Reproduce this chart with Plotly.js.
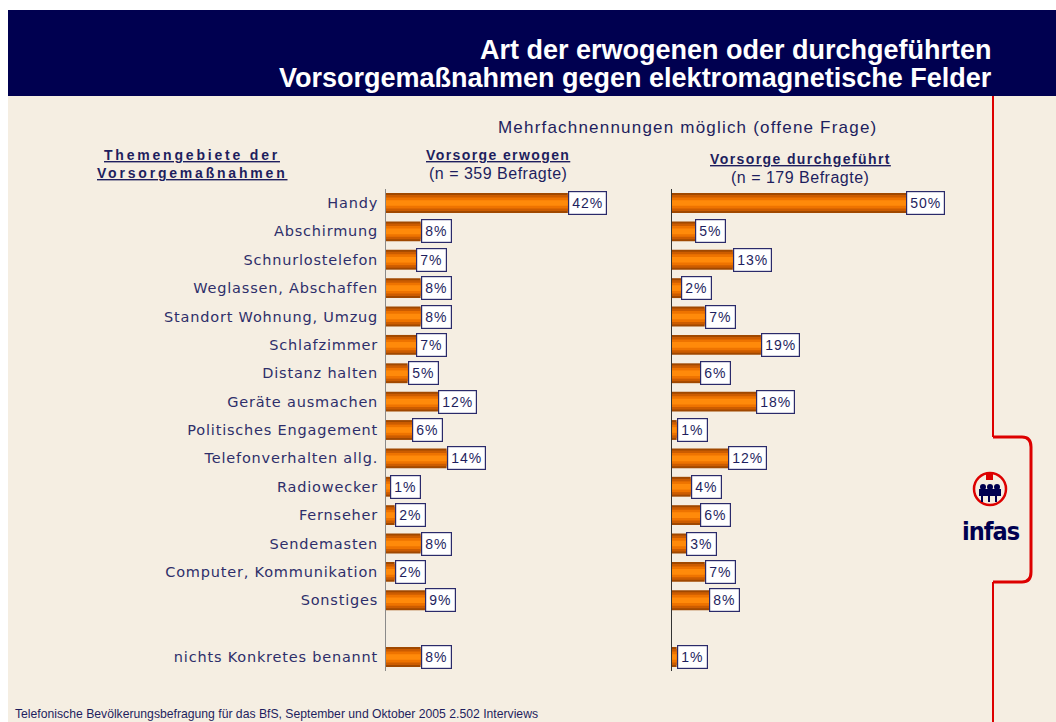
<!DOCTYPE html>
<html>
<head>
<meta charset="utf-8">
<script src="https://cdn.plot.ly/plotly-3.0.1.min.js"></script>
<style>html,body{margin:0;padding:0;background:#fff;}#chart{width:1056px;height:722px;}</style>
</head>
<body>
<div id="chart"></div>
<script>
// ---- data ----
const categories = ['Handy','Abschirmung','Schnurlostelefon','Weglassen, Abschaffen','Standort Wohnung, Umzug','Schlafzimmer','Distanz halten','Geräte ausmachen','Politisches Engagement','Telefonverhalten allg.','Radiowecker','Fernseher','Sendemasten','Computer, Kommunikation','Sonstiges','nichts Konkretes benannt'];
const erwogen = [42,8,7,8,8,7,5,12,6,14,1,2,8,2,9,8];
const durchgefuehrt = [50,5,13,2,7,19,6,18,1,12,4,6,3,7,8,1];
const titleLines = ['Art der erwogenen oder durchgeführten','Vorsorgemaßnahmen gegen elektromagnetische Felder'];
const subtitle = 'Mehrfachnennungen möglich (offene Frage)';
const leftHeader = ['Themengebiete der','Vorsorgemaßnahmen'];
const seriesHeaders = ['Vorsorge erwogen','Vorsorge durchgeführt'];
const seriesN = ['(n = 359 Befragte)','(n = 179 Befragte)'];
const footer = 'Telefonische Bevölkerungsbefragung für das BfS, September und Oktober 2005 2.502 Interviews';
const logoText = 'infas';

// ---- layout helpers ----
const W = 1056, H = 722;
const px = x => x / W;
const py = y => 1 - y / H;
const NAVY = '#000050';
const TXT = '#1e1e5e';
const BEIGE = '#F5EEE2';
const RED = '#DD0000';
const sp = (t, ls) => '<span style="letter-spacing:' + ls + 'px">' + t + '</span>';

// category axis with a blank slot before the last entry
const SPACER = '\u2009';
const catArray = categories.slice(0, categories.length - 1).concat([SPACER], categories.slice(-1));
const catText = catArray.map(c => c === SPACER ? '' : sp(c, 0.8));

const layers = [
  {w: 0.70, c: '#A04800'},
  {w: 0.56, c: '#CC5C00'},
  {w: 0.38, c: '#EE7300'},
  {w: 0.20, c: '#FF8A0A'}
];

const traces = [];
[[erwogen,'x','y'],[durchgefuehrt,'x2','y2']].forEach(([vals, xa, ya]) => {
  layers.forEach(l => {
    traces.push({
      type: 'bar', orientation: 'h',
      x: vals, y: categories,
      xaxis: xa, yaxis: ya,
      width: l.w,
      marker: {color: l.c, line: {width: 0}},
      hoverinfo: 'skip', showlegend: false
    });
  });
});

const annotations = [];
// value boxes
[[erwogen,'x','y'],[durchgefuehrt,'x2','y2']].forEach(([vals, xa, ya]) => {
  vals.forEach((v, i) => {
    annotations.push({
      xref: xa, yref: ya, x: v, y: categories[i],
      xanchor: 'left', yanchor: 'middle', showarrow: false,
      text: sp(v + '%', 1),
      font: {family: 'Arial, Liberation Sans, sans-serif', size: 14, color: TXT},
      bgcolor: '#ffffff', bordercolor: '#2a2a6a', borderwidth: 1.2, borderpad: 3
    });
  });
});
// title
titleLines.forEach((t, i) => {
  annotations.push({xref:'paper', yref:'paper', x: px(994), y: py(50 + i*28), xanchor:'right', yanchor:'middle', showarrow:false,
    text: t, font:{family:'Arial, Liberation Sans, sans-serif', size:27, color:'#ffffff', weight:'bold'}});
});
// subtitle
annotations.push({xref:'paper', yref:'paper', x: px(687), y: py(128), xanchor:'center', yanchor:'middle', showarrow:false,
  text: sp(subtitle, 1.2), font:{family:'Arial, Liberation Sans, sans-serif', size:17, color:TXT}});
// left header
leftHeader.forEach((t, i) => {
  annotations.push({xref:'paper', yref:'paper', x: px(192), y: py(155 + i*18), xanchor:'center', yanchor:'middle', showarrow:false,
    text: sp(t, 2.8),
    font:{family:'Arial, Liberation Sans, sans-serif', size:14, color:TXT, weight:'bold', lineposition:'under'}});
});
// series headers
const hdrX = [498, 800], hdrY = [155, 159];
seriesHeaders.forEach((t, i) => {
  annotations.push({xref:'paper', yref:'paper', x: px(hdrX[i]), y: py(hdrY[i]), xanchor:'center', yanchor:'middle', showarrow:false,
    text: sp(t, 1.4),
    font:{family:'Arial, Liberation Sans, sans-serif', size:14, color:TXT, weight:'bold', lineposition:'under'}});
  annotations.push({xref:'paper', yref:'paper', x: px(hdrX[i]), y: py(hdrY[i] + 18), xanchor:'center', yanchor:'middle', showarrow:false,
    text: sp(seriesN[i], 0.5), font:{family:'Arial, Liberation Sans, sans-serif', size:16, color:TXT}});
});
// footer
annotations.push({xref:'paper', yref:'paper', x: px(13), y: py(714), xanchor:'left', yanchor:'middle', showarrow:false,
  text: footer, font:{family:'Arial, Liberation Sans, sans-serif', size:12.2, color:TXT}});
// logo text
annotations.push({xref:'paper', yref:'paper', x: px(991), y: py(531), xanchor:'center', yanchor:'middle', showarrow:false,
  text: '<span style="font-stretch:condensed;letter-spacing:-1px">' + logoText + '</span>',
  font:{family:'DejaVu Sans Condensed, DejaVu Sans, sans-serif', size:25, color:NAVY, weight:'bold'}});

const shapes = [
  {type:'rect', xref:'paper', yref:'paper', x0:px(8), x1:1, y0:0, y1:py(96), fillcolor:BEIGE, line:{width:0}, layer:'below'},
  {type:'rect', xref:'paper', yref:'paper', x0:px(8), x1:1, y0:py(96), y1:py(10), fillcolor:NAVY, line:{width:0}, layer:'below'},
  // red line + bracket
  {type:'line', xref:'paper', yref:'paper', x0:px(993), x1:px(993), y0:py(96), y1:py(437), line:{color:RED, width:2}},
  {type:'path', xref:'paper', yref:'paper',
    path: `M ${px(993)} ${py(437)} L ${px(1022)} ${py(437)} Q ${px(1031)} ${py(437)} ${px(1031)} ${py(447)} L ${px(1031)} ${py(572)} Q ${px(1031)} ${py(582)} ${px(1022)} ${py(582)} L ${px(993)} ${py(582)}`,
    line:{color:RED, width:3}},
  {type:'line', xref:'paper', yref:'paper', x0:px(993), x1:px(993), y0:py(582), y1:0, line:{color:RED, width:2}},
  // logo circle
  {type:'circle', xref:'paper', yref:'paper', x0:px(974), x1:px(1006), y0:py(505), y1:py(473), line:{color:RED, width:2.5}},
  {type:'rect', xref:'paper', yref:'paper', x0:px(986), x1:px(993), y0:py(480), y1:py(473), fillcolor:RED, line:{width:0}},
  // figures inside logo
  {type:'circle', xref:'paper', yref:'paper', x0:px(980), x1:px(986), y0:py(490), y1:py(484), fillcolor:NAVY, line:{width:0}},
  {type:'circle', xref:'paper', yref:'paper', x0:px(987), x1:px(993), y0:py(490), y1:py(484), fillcolor:NAVY, line:{width:0}},
  {type:'circle', xref:'paper', yref:'paper', x0:px(994), x1:px(1000), y0:py(490), y1:py(484), fillcolor:NAVY, line:{width:0}},
  {type:'rect', xref:'paper', yref:'paper', x0:px(979), x1:px(1001), y0:py(496), y1:py(489), fillcolor:NAVY, line:{width:0}},
  {type:'rect', xref:'paper', yref:'paper', x0:px(981), x1:px(983), y0:py(502), y1:py(496), fillcolor:NAVY, line:{width:0}},
  {type:'rect', xref:'paper', yref:'paper', x0:px(988), x1:px(990), y0:py(502), y1:py(496), fillcolor:NAVY, line:{width:0}},
  {type:'rect', xref:'paper', yref:'paper', x0:px(995), x1:px(997), y0:py(502), y1:py(496), fillcolor:NAVY, line:{width:0}}
];

const slot = 28.375;
const yTop = 203 - slot/2, yBot = 657 + slot/2;
const yRange = [catArray.length - 0.5, -0.5];

const layout = {
  width: W, height: H,
  margin: {l:0, r:0, t:0, b:0, pad:0},
  paper_bgcolor: '#ffffff', plot_bgcolor: 'rgba(0,0,0,0)',
  barmode: 'overlay',
  showlegend: false,
  xaxis: {domain:[px(386), px(640)], range:[0, 254/4.33], showgrid:false, zeroline:false, showticklabels:false, showline:false, fixedrange:true},
  xaxis2: {domain:[px(672), px(980)], range:[0, 308/4.68], showgrid:false, zeroline:false, showticklabels:false, showline:false, fixedrange:true},
  yaxis: {domain:[py(yBot), py(yTop)], type:'category', categoryorder:'array', categoryarray: catArray, range: yRange,
    tickmode:'array', tickvals: catArray, ticktext: catText,
    anchor:'x', showgrid:false, zeroline:false, showline:true, linecolor:'#8a8a8a', linewidth:1, ticks:'', ticklabelstandoff:4,
    tickfont:{family:'DejaVu Sans, Verdana, sans-serif', size:14.5, color:'#2e2e6a'}, fixedrange:true},
  yaxis2: {domain:[py(yBot), py(yTop)], type:'category', categoryorder:'array', categoryarray: catArray, range: yRange,
    anchor:'x2', matches:'y', showgrid:false, zeroline:false, showline:true, linecolor:'#333333', linewidth:1, ticks:'', showticklabels:false, fixedrange:true},
  annotations: annotations,
  shapes: shapes
};

Plotly.newPlot('chart', traces, layout, {staticPlot:true, displayModeBar:false});
</script>
</body>
</html>
